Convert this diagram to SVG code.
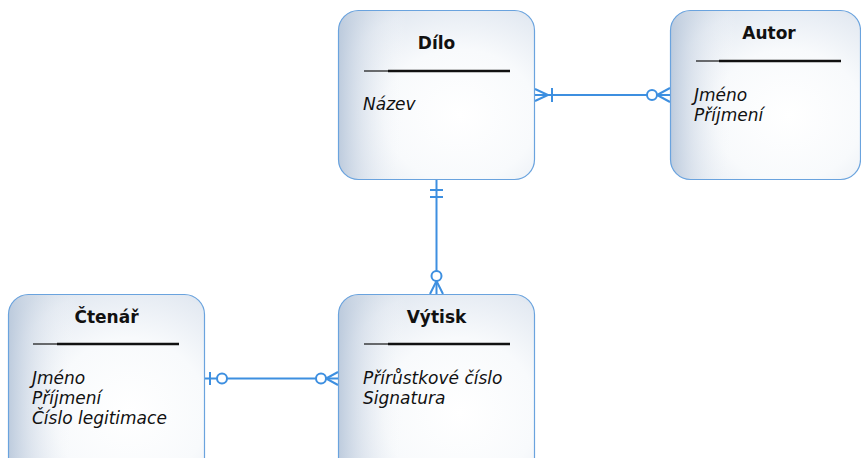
<svg xmlns="http://www.w3.org/2000/svg" width="861" height="458" viewBox="0 0 861 458">
  <defs>
    <radialGradient id="boxGlow" cx="0.62" cy="0.62" r="0.78">
      <stop offset="0" stop-color="#ffffff"/>
      <stop offset="0.5" stop-color="#f8fafc"/>
      <stop offset="0.85" stop-color="#e4eaf2"/>
      <stop offset="1" stop-color="#d2dce8"/>
    </radialGradient>
    <linearGradient id="boxEdge" x1="0" y1="0" x2="1" y2="0">
      <stop offset="0" stop-color="#b9c8db" stop-opacity="0.9"/>
      <stop offset="0.12" stop-color="#cfd9e6" stop-opacity="0.5"/>
      <stop offset="0.35" stop-color="#ffffff" stop-opacity="0"/>
    </linearGradient>
    <style>
      .box { fill: url(#boxGlow); stroke: none; }
      .edge { fill: url(#boxEdge); stroke: #6aa3de; stroke-width: 1.2; }
      .title { font-family: "DejaVu Sans", Verdana, sans-serif; font-weight: bold; font-size: 17px; fill: #111; text-anchor: middle; }
      .attr { font-family: "DejaVu Sans", Verdana, sans-serif; font-style: italic; font-size: 17px; fill: #111; }
      .thin { stroke: #111; stroke-width: 1.2; }
      .thick { stroke: #111; stroke-width: 2.6; }
      .conn { fill: none; stroke: #3d8fe0; stroke-width: 2; }
      .ring { fill: #ffffff; stroke: #3d8fe0; stroke-width: 2; }
    </style>
  </defs>

  <!-- relationship lines with crow's-foot ends -->
  <g id="connectors">
    <!-- Dílo (one or many) to Autor (zero or many) -->
    <line class="conn" x1="535" y1="95" x2="670" y2="95"/>
    <path class="conn" d="M535,89 L548,95 L535,101"/>
    <line class="conn" x1="552" y1="88" x2="552" y2="102"/>
    <path class="conn" d="M670,88 L657,95 L670,102"/>
    <circle class="ring" cx="652" cy="95" r="5"/>

    <!-- Dílo (exactly one) to Výtisk (zero or many) -->
    <line class="conn" x1="436.5" y1="180" x2="436.5" y2="294"/>
    <line class="conn" x1="430" y1="190" x2="443" y2="190"/>
    <line class="conn" x1="430" y1="197" x2="443" y2="197"/>
    <path class="conn" d="M430,294 L436.5,281 L443,294"/>
    <circle class="ring" cx="436.5" cy="276" r="5"/>

    <!-- Čtenář (zero or one) to Výtisk (zero or many) -->
    <line class="conn" x1="205" y1="378.5" x2="338" y2="378.5"/>
    <line class="conn" x1="210" y1="372" x2="210" y2="385"/>
    <circle class="ring" cx="222" cy="378.5" r="5"/>
    <path class="conn" d="M338,372 L326,378.5 L338,385"/>
    <circle class="ring" cx="321" cy="378.5" r="5"/>
  </g>

  <g id="dilo">
    <rect class="box" x="338.5" y="10.5" width="196" height="169" rx="20" ry="20"/>
    <rect class="edge" x="338.5" y="10.5" width="196" height="169" rx="20" ry="20"/>
    <text class="title" x="436.5" y="49">Dílo</text>
    <line class="thin" x1="364" y1="71" x2="389" y2="71"/>
    <line class="thick" x1="388" y1="71" x2="510" y2="71"/>
    <text class="attr" x="363" y="110">Název</text>
  </g>

  <g id="autor">
    <rect class="box" x="670.5" y="10.5" width="190" height="169" rx="20" ry="20"/>
    <rect class="edge" x="670.5" y="10.5" width="190" height="169" rx="20" ry="20"/>
    <text class="title" x="769" y="39">Autor</text>
    <line class="thin" x1="696" y1="61" x2="720" y2="61"/>
    <line class="thick" x1="719" y1="61" x2="841" y2="61"/>
    <text class="attr" x="694" y="101">Jméno</text>
    <text class="attr" x="694" y="121">Příjmení</text>
  </g>

  <g id="ctenar">
    <rect class="box" x="8.5" y="294.5" width="196" height="190" rx="20" ry="20"/>
    <rect class="edge" x="8.5" y="294.5" width="196" height="190" rx="20" ry="20"/>
    <text class="title" x="106.5" y="323">Čtenář</text>
    <line class="thin" x1="33" y1="344" x2="58" y2="344"/>
    <line class="thick" x1="57" y1="344" x2="179" y2="344"/>
    <text class="attr" x="32" y="384">Jméno</text>
    <text class="attr" x="32" y="404">Příjmení</text>
    <text class="attr" x="32" y="424">Číslo legitimace</text>
  </g>

  <g id="vytisk">
    <rect class="box" x="338.5" y="294.5" width="196" height="190" rx="20" ry="20"/>
    <rect class="edge" x="338.5" y="294.5" width="196" height="190" rx="20" ry="20"/>
    <text class="title" x="436.5" y="323">Výtisk</text>
    <line class="thin" x1="364" y1="344" x2="389" y2="344"/>
    <line class="thick" x1="388" y1="344" x2="510" y2="344"/>
    <text class="attr" x="363" y="384">Přírůstkové číslo</text>
    <text class="attr" x="363" y="404">Signatura</text>
  </g>
</svg>
